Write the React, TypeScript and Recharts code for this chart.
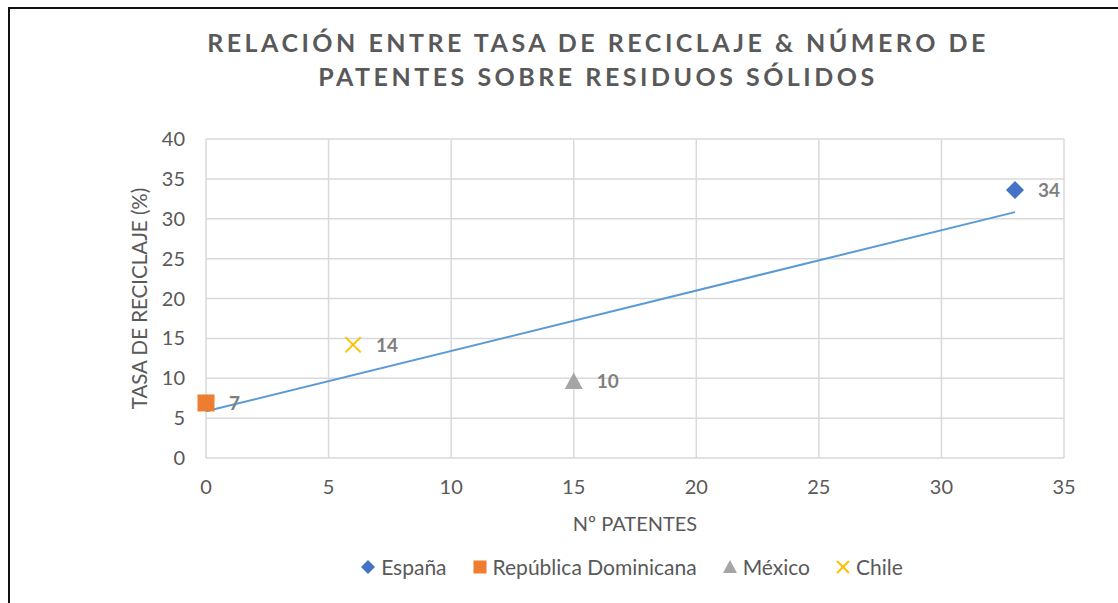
import { ScatterChart, Scatter, XAxis, YAxis, CartesianGrid, LabelList } from "recharts"

// countries and their values
const countries = ["España", "República Dominicana", "México", "Chile"]
const patentes = [33, 0, 15, 6]
const tasaReciclaje = [33.6, 6.9, 9.6, 14.2]
const colors = ["#4472C4", "#ED7D31", "#A5A5A5", "#FFC000"]
const markers = ["diamond", "square", "triangle", "cross"]

const xTicks = [0, 5, 10, 15, 20, 25, 30, 35]
const yTicks = [0, 5, 10, 15, 20, 25, 30, 35, 40]

const titleLines = ["RELACIÓN ENTRE TASA DE RECICLAJE & NÚMERO DE", "PATENTES SOBRE RESIDUOS SÓLIDOS"]

// linear trendline (least squares, like Excel)
function trendline() {
  const n = patentes.length
  const mx = patentes.reduce((a, b) => a + b, 0) / n
  const my = tasaReciclaje.reduce((a, b) => a + b, 0) / n
  let sxy = 0
  let sxx = 0
  patentes.forEach((x, i) => {
    sxy += (x - mx) * (tasaReciclaje[i] - my)
    sxx += (x - mx) * (x - mx)
  })
  const slope = sxy / sxx
  const icpt = my - slope * mx
  const x0 = Math.min(...patentes)
  const x1 = Math.max(...patentes)
  return [
    { x: x0, y: icpt + slope * x0 },
    { x: x1, y: icpt + slope * x1 },
  ]
}

function Marker({ kind, color, cx, cy, r = 9 }: { kind: string; color: string; cx: number; cy: number; r?: number }) {
  if (kind === "diamond")
    return <path d={`M${cx},${cy - r} L${cx + r},${cy} L${cx},${cy + r} L${cx - r},${cy} Z`} fill={color} />
  if (kind === "square") return <rect x={cx - r + 0.5} y={cy - r + 0.5} width={2 * r - 1} height={2 * r - 1} fill={color} />
  if (kind === "triangle")
    return <path d={`M${cx},${cy - r} L${cx + r},${cy + r * 0.85} L${cx - r},${cy + r * 0.85} Z`} fill={color} />
  const k = r * 0.85
  return (
    <g stroke={color} strokeWidth={2}>
      <line x1={cx - k} y1={cy - k} x2={cx + k} y2={cy + k} />
      <line x1={cx - k} y1={cy + k} x2={cx + k} y2={cy - k} />
    </g>
  )
}

const renderLabel = (props: any) => {
  const { x, y, width, height, value } = props
  const cx = x + width / 2
  const cy = y + height / 2
  return (
    <text x={cx + 23} y={cy} dy="0.36em" fill="#7F7F7F" fontSize={19} fontWeight="bold">
      {Math.round(value)}
    </text>
  )
}

export default function App() {
  const trend = trendline()

  return (
    <div style={{ position: "absolute", left: 0, top: 0, width: 1118, height: 603, fontFamily: "Lato, sans-serif", background: "#fff", overflow: "hidden" }}>
      <div style={{ position: "absolute", left: 8, top: 7, width: 1120, height: 610, borderTop: "2px solid #111", borderLeft: "2px solid #111" }} />
      <div
        style={{
          position: "absolute",
          left: 0,
          width: 1196,
          top: 25,
          textAlign: "center",
          color: "#595959",
          fontWeight: "bold",
          fontSize: 25,
          letterSpacing: 3.5,
          lineHeight: "34px",
        }}
      >
        {titleLines.map((t) => (
          <div key={t}>{t}</div>
        ))}
      </div>

      <ScatterChart width={1118} height={603} margin={{ top: 139, right: 54, bottom: 105, left: 120 }}>
        <CartesianGrid stroke="#D9D9D9" strokeWidth={1.5} />
        <XAxis
          type="number"
          dataKey="x"
          domain={[0, 35]}
          ticks={xTicks}
          height={40}
          axisLine={false}
          tickLine={false}
          tickSize={0}
          tickMargin={22}
          tick={{ fill: "#595959", fontSize: 20 }}
          label={{ value: "Nº PATENTES", position: "bottom", offset: 19, fill: "#595959", fontSize: 20 }}
        />
        <YAxis
          type="number"
          dataKey="y"
          domain={[0, 40]}
          ticks={yTicks}
          width={86}
          axisLine={false}
          tickLine={false}
          tickSize={0}
          tickMargin={21}
          tick={{ fill: "#595959", fontSize: 20 }}
          label={{
            value: "TASA DE RECICLAJE (%)",
            angle: -90,
            position: "insideLeft",
            offset: 20,
            fill: "#595959",
            fontSize: 20.5,
            style: { textAnchor: "middle" },
          }}
        />
        <Scatter
          data={trend}
          line={{ stroke: "#5B9BD5", strokeWidth: 2 }}
          shape={() => <g />}
          legendType="none"
          isAnimationActive={false}
        />
        {countries.map((name, i) => (
          <Scatter
            key={name}
            name={name}
            data={[{ x: patentes[i], y: tasaReciclaje[i] }]}
            fill={colors[i]}
            shape={(p: any) => <Marker kind={markers[i]} color={colors[i]} cx={p.cx} cy={p.cy} />}
            isAnimationActive={false}
          >
            <LabelList dataKey="y" content={renderLabel} />
          </Scatter>
        ))}
      </ScatterChart>

      <div
        style={{
          position: "absolute",
          left: 0,
          width: 1262,
          top: 554,
          display: "flex",
          justifyContent: "center",
          gap: 24,
          color: "#595959",
          fontSize: 21,
          lineHeight: "26px",
        }}
      >
        {countries.map((name, i) => (
          <div key={name} style={{ display: "flex", alignItems: "center", gap: 4 }}>
            <svg width={18} height={18}>
              <Marker kind={markers[i]} color={colors[i]} cx={9} cy={9} r={7} />
            </svg>
            <span>{name}</span>
          </div>
        ))}
      </div>
    </div>
  )
}
